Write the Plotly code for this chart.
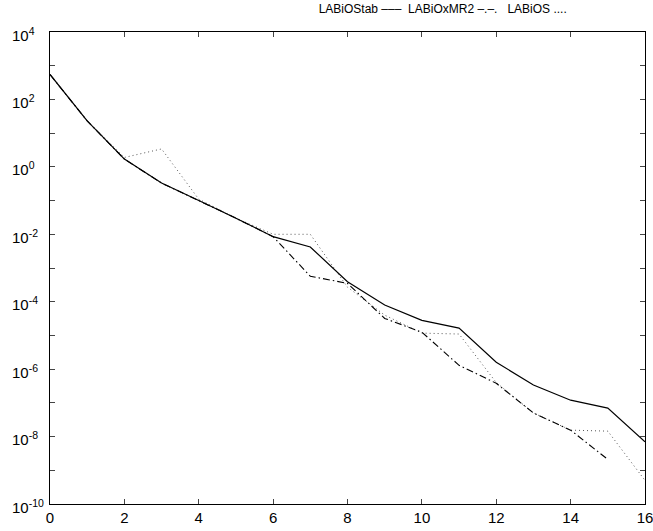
import plotly.graph_objects as go

x_stab = list(range(0, 17))
stab = [550, 23, 1.7, 0.33, 0.1, 0.03, 0.0085, 0.0042, 3.9e-4, 8e-5, 2.8e-5,
        1.65e-5, 1.6e-6, 3.4e-7, 1.2e-7, 7e-8, 7e-9]

x_mr2 = list(range(0, 16))
mr2 = [550, 23, 1.7, 0.33, 0.1, 0.03, 0.0085, 5.7e-4, 3.5e-4, 3.2e-5, 1.25e-5,
       1.3e-6, 3.8e-7, 5e-8, 1.55e-8, 2.1e-9]

x_os = list(range(0, 17))
os_ = [550, 23, 1.9, 3.4, 0.11, 0.03, 0.01, 0.01, 2.7e-4, 4e-5, 1.17e-5,
       1.1e-5, 4e-7, 5e-8, 1.55e-8, 1.45e-8, 5e-10]

y_exps = list(range(-10, 5))
y_label_exps = list(range(-10, 5, 2))
x_ticks = list(range(0, 17, 2))

fig = go.Figure()
fig.add_trace(go.Scatter(x=x_os, y=os_, mode="lines",
                         line=dict(color="#555", width=1, dash="1px,3px")))
fig.add_trace(go.Scatter(x=x_mr2, y=mr2, mode="lines",
                         line=dict(color="black", width=1.1, dash="7px,3px,1.5px,3px")))
fig.add_trace(go.Scatter(x=x_stab, y=stab, mode="lines",
                         line=dict(color="black", width=1.2)))

# y tick labels, left-aligned like the reference
for e in y_label_exps:
    fig.add_annotation(text="10<sup>%d</sup>" % e, xref="paper", yref="y",
                       x=-40 / 595, y=e, xanchor="left", yanchor="middle",
                       showarrow=False, font=dict(size=15), yshift=-2)

fig.update_layout(
    width=653, height=531,
    margin=dict(l=50, r=8, t=32, b=27),
    paper_bgcolor="white", plot_bgcolor="white",
    showlegend=False,
    font=dict(family="Liberation Sans, Arial, sans-serif", color="black", size=15),
    title=dict(text="LABiOStab –––  LABiOxMR2 –.–.   LABiOS ....",
               x=0.678, xanchor="center", y=0.992, yanchor="top",
               font=dict(size=12)),
)
fig.update_xaxes(range=[0, 16], tickvals=x_ticks, ticks="inside", ticklen=5,
                 showline=True, linecolor="black", linewidth=1.2, mirror="ticks",
                 showgrid=False, zeroline=False, tickfont=dict(size=15),
                 automargin=False, ticklabeloverflow="allow")
fig.update_yaxes(type="log", range=[-10, 4],
                 tickvals=[10.0 ** e for e in y_exps], showticklabels=False,
                 ticks="inside", ticklen=5,
                 showline=True, linecolor="black", linewidth=1.2, mirror="ticks",
                 showgrid=False, zeroline=False,
                 automargin=False)

fig.write_html("out.html", config={"displayModeBar": False},
               post_script="document.body.style.margin='0';")
